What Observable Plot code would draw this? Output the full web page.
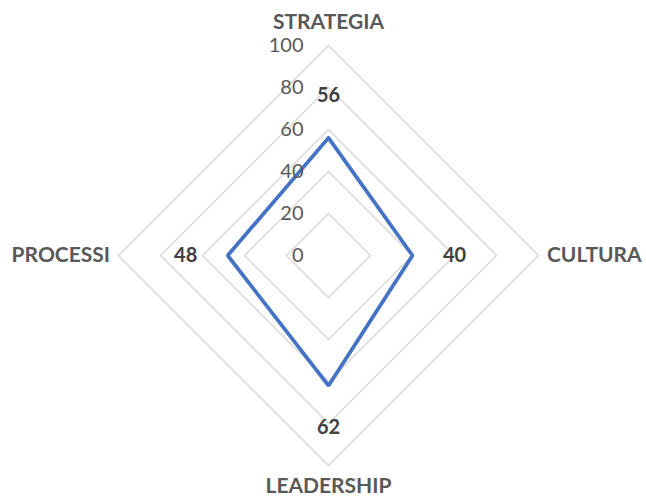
<!DOCTYPE html>
<html><head><meta charset="utf-8">
<script src="https://cdn.jsdelivr.net/npm/d3@7"></script>
<script src="https://cdn.jsdelivr.net/npm/@observablehq/plot@0.6"></script>
<style>body{margin:0;background:#fff;} #chart svg{display:block;}</style>
</head><body><div id="chart"></div>
<script>
const categories = ["STRATEGIA", "CULTURA", "LEADERSHIP", "PROCESSI"];
const values = [56, 40, 62, 48];
const ticks = [0, 20, 40, 60, 80, 100];
const tickLabels = ["0", "20", "40", "60", "80", "100"];

const angle = i => Math.PI / 2 - i * Math.PI / 2;
const px = (i, r) => r * Math.cos(angle(i));
const py = (i, r) => r * Math.sin(angle(i));

const grid = [];
ticks.filter(t => t > 0).forEach(t => {
  for (let k = 0; k <= categories.length; k++) {
    const i = k % categories.length;
    grid.push({ring: t, x: px(i, t), y: py(i, t)});
  }
});
const series = [];
for (let k = 0; k <= categories.length; k++) {
  const i = k % categories.length;
  series.push({x: px(i, values[i]), y: py(i, values[i])});
}
const catLabels = categories.map((c, i) => {
  const s = Math.sin(angle(i));
  const vertical = Math.abs(s) > 0.5;
  const r = vertical ? (s > 0 ? 111 : 110) : 104;
  const cx = Math.cos(angle(i));
  return {label: c, x: px(i, r), y: py(i, r),
    anchor: vertical ? "middle" : (cx > 0 ? "start" : "end")};
});
const valLabels = categories.map((c, i) => ({
  label: String(values[i]), x: px(i, values[i] + 20), y: py(i, values[i] + 20)
}));
const tickData = ticks.map((t, j) => ({label: tickLabels[j], y: t}));

const font = "Lato, 'Open Sans', sans-serif";
const chart = Plot.plot({
  width: 646, height: 499,
  margin: 0,
  x: {domain: [-100, 100], range: [118, 538], axis: null},
  y: {domain: [-100, 100], range: [465, 45], axis: null},
  style: {fontFamily: font, background: "#fff"},
  marks: [
    Plot.line(grid, {x: "x", y: "y", z: "ring", stroke: "#d9d9d9", strokeWidth: 1.5, strokeLinejoin: "miter"}),
    Plot.line(series, {x: "x", y: "y", stroke: "#4472c4", strokeWidth: 3.75, strokeLinejoin: "miter"}),
    Plot.text(tickData, {x: 0, y: "y", text: "label", textAnchor: "end", dx: -25, fill: "#595959", fontSize: 20}),
    Plot.text(valLabels, {x: "x", y: "y", text: "label", fill: "#404040", fontSize: 20, fontWeight: "bold"}),
    ...catLabels.map(d => Plot.text([d], {x: "x", y: "y", text: "label", textAnchor: d.anchor, fill: "#595959", fontSize: 21, fontWeight: "bold"}))
  ]
});
document.getElementById("chart").append(chart);
</script>
</body></html>
